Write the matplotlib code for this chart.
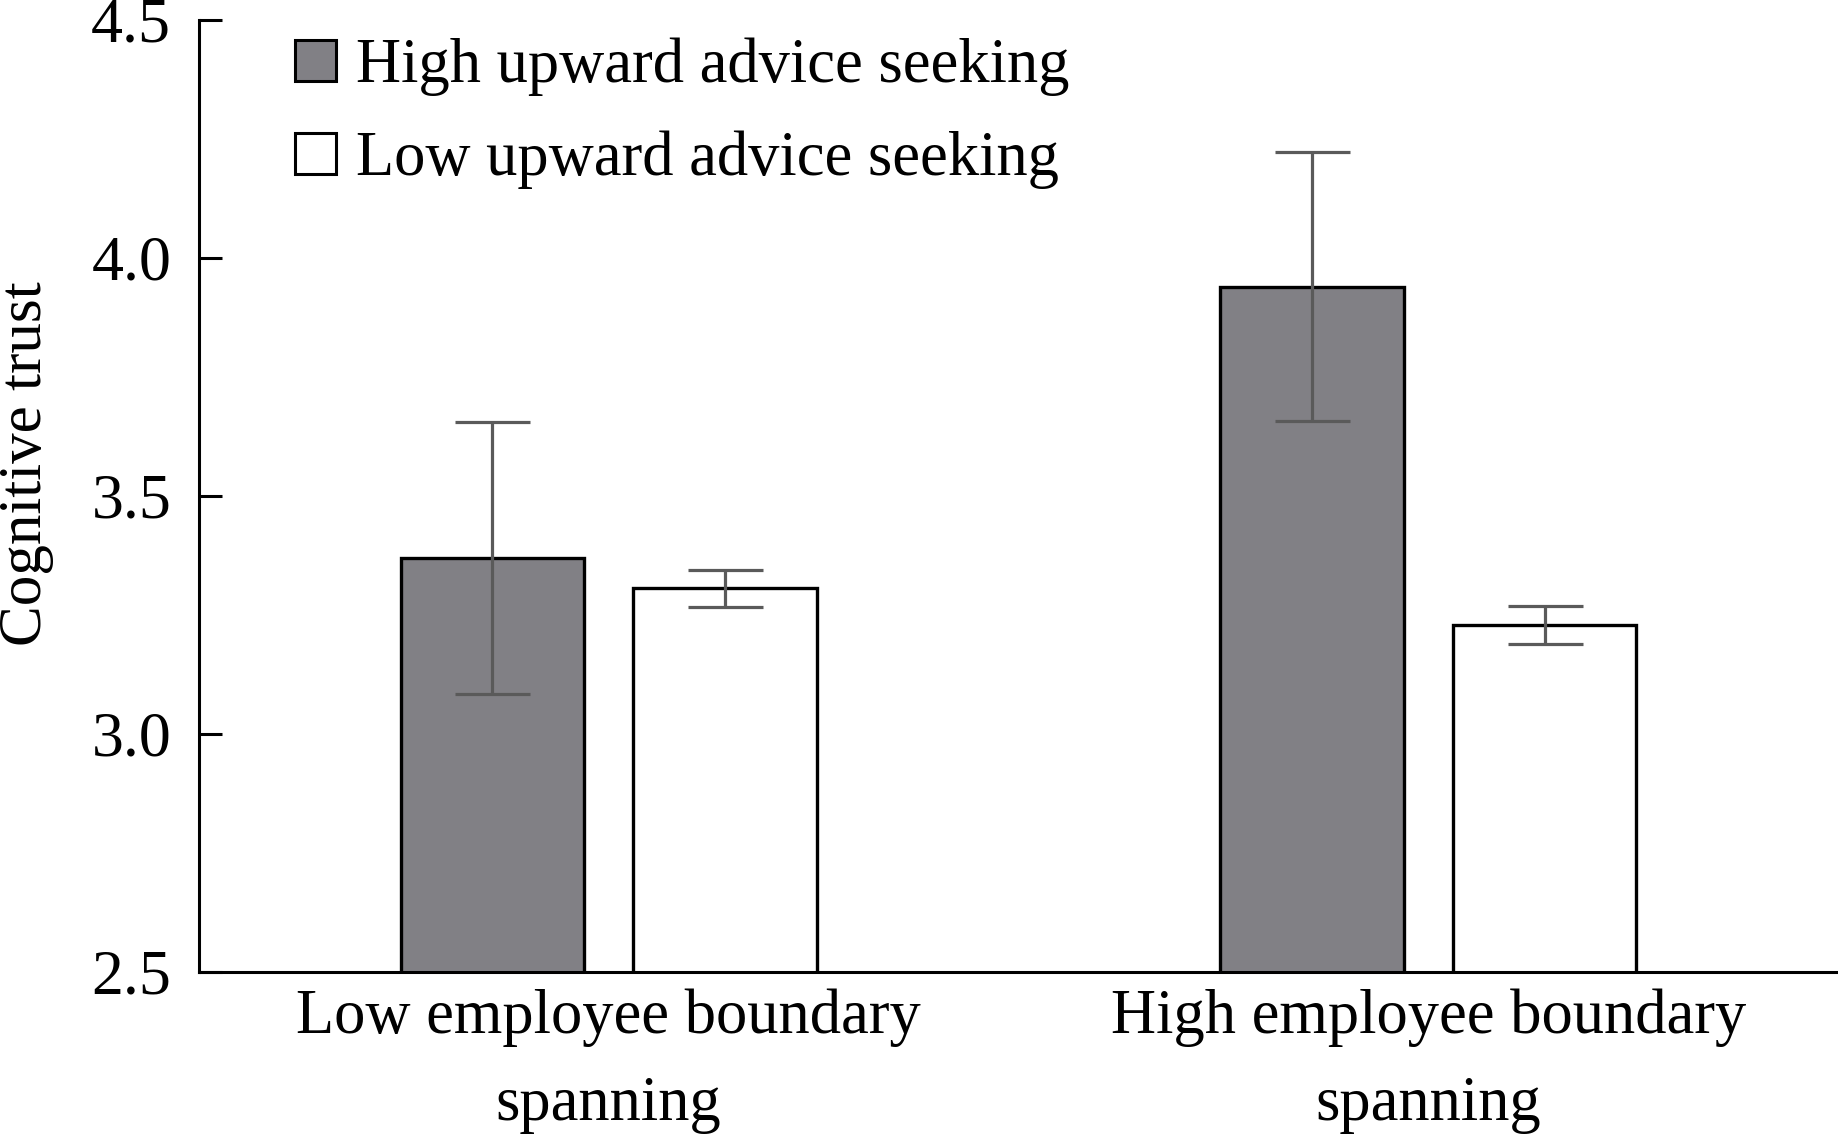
import numpy as np
import matplotlib
matplotlib.use('Agg')
import matplotlib.pyplot as plt
from matplotlib.patches import Patch

# data
groups = ['Low employee boundary\nspanning', 'High employee boundary\nspanning']
series = ['High upward advice seeking', 'Low upward advice seeking']
high_means = [3.37, 3.94]
high_err = [0.285, 0.283]
low_means = [3.306, 3.229]
low_err = [0.039, 0.040]
yticks = [2.5, 3.0, 3.5, 4.0, 4.5]

plt.rcParams['font.family'] = 'Liberation Serif'

fig = plt.figure(figsize=(18.38, 11.35), dpi=100)
ax = fig.add_axes([199/1838, 163/1135, 1 - 199/1838, (972-20)/1135])

x = np.arange(len(groups))
w = 0.224
off = 0.142
err_kw = dict(ecolor='#5a5a5a', elinewidth=2.3, capsize=27, capthick=2.3)

ax.bar(x - off, high_means, w, color='#818085', edgecolor='black',
       linewidth=2.4, yerr=high_err, error_kw=err_kw, label=series[0])
ax.bar(x + off, low_means, w, color='white', edgecolor='black',
       linewidth=2.4, yerr=low_err, error_kw=err_kw, label=series[1])

ax.set_ylim(2.5, 4.5)
ax.set_xlim(-0.5, 1.5)
ax.set_yticks(yticks)
ax.set_yticklabels([f'{t:.1f}' for t in yticks])
ax.set_xticks(x)
ax.set_xticklabels(groups, linespacing=1.65)

ax.spines['top'].set_visible(False)
ax.spines['right'].set_visible(False)
ax.spines['left'].set_linewidth(2.2)
ax.spines['bottom'].set_linewidth(2.2)
ax.tick_params(axis='y', direction='in', length=16.5, width=2.2, labelsize=46, pad=20)
ax.tick_params(axis='x', length=0, labelsize=45, pad=12)

handles = [Patch(facecolor='#818085', edgecolor='black', linewidth=2.2),
           Patch(facecolor='white', edgecolor='black', linewidth=2.2)]
ax.legend(handles, series, loc='upper left', bbox_to_anchor=(295/1838, 1 - 38/1135),
          bbox_transform=fig.transFigure, frameon=False, fontsize=45,
          handlelength=0.65, handleheight=0.65, handletextpad=0.33,
          labelspacing=0.55, borderpad=0, borderaxespad=0)

fig.text(26/1838, 1 - 464/1135, 'Cognitive trust', rotation=90,
         ha='center', va='center', fontsize=44)

plt.savefig('out.png', dpi=100)
